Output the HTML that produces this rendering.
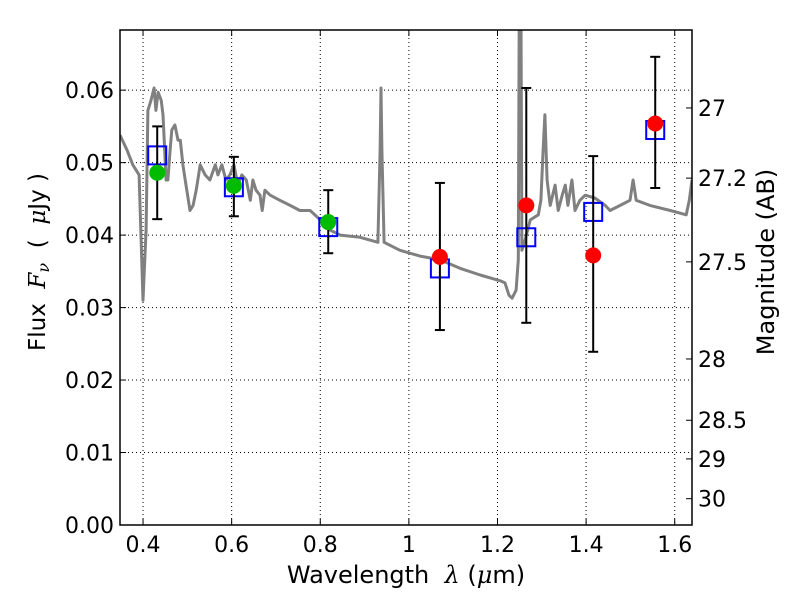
<!DOCTYPE html>
<html><head><meta charset="utf-8"><style>
body{margin:0;background:#fff;}
svg text{font-family:"DejaVu Sans","Liberation Sans",sans-serif;fill:#000;white-space:pre;}
</style></head><body>
<svg id="c" width="800" height="600" xmlns="http://www.w3.org/2000/svg"></svg>
<script>
const modelWave=[0.348,0.364,0.377,0.391,0.395,0.400,0.407,0.411,0.418,0.425,0.429,0.434,0.441,0.445,0.452,0.456,0.461,0.465,0.472,0.479,0.484,0.490,0.497,0.506,0.513,0.520,0.529,0.540,0.551,0.563,0.569,0.578,0.587,0.596,0.605,0.614,0.623,0.633,0.642,0.648,0.655,0.664,0.669,0.675,0.687,0.709,0.732,0.754,0.777,0.800,0.822,0.845,0.890,0.930,0.935,0.937,0.939,0.944,0.980,1.025,1.070,1.116,1.161,1.206,1.217,1.226,1.233,1.242,1.247,1.249,1.253,1.255,1.262,1.274,1.292,1.298,1.303,1.307,1.312,1.319,1.330,1.337,1.346,1.353,1.359,1.368,1.375,1.386,1.398,1.420,1.443,1.454,1.477,1.499,1.506,1.513,1.544,1.590,1.626,1.633,1.639];
const modelFlux=[0.0538,0.0517,0.0497,0.0483,0.0407,0.0310,0.0407,0.0572,0.0586,0.0603,0.0572,0.0597,0.0586,0.0566,0.0476,0.0476,0.0517,0.0545,0.0552,0.0531,0.0531,0.0497,0.0469,0.0434,0.0441,0.0462,0.0497,0.0483,0.0476,0.0497,0.0483,0.0497,0.0476,0.0483,0.0497,0.0469,0.0483,0.0476,0.0448,0.0476,0.0462,0.0455,0.0434,0.0462,0.0455,0.0448,0.0441,0.0434,0.0434,0.0421,0.0407,0.0400,0.0397,0.0390,0.0517,0.0603,0.0517,0.0390,0.0379,0.0371,0.0366,0.0354,0.0345,0.0337,0.0334,0.0317,0.0313,0.0324,0.0366,0.0700,0.0700,0.0379,0.0393,0.0421,0.0428,0.0448,0.0517,0.0566,0.0476,0.0441,0.0469,0.0434,0.0455,0.0469,0.0441,0.0476,0.0434,0.0448,0.0455,0.0451,0.0441,0.0434,0.0441,0.0448,0.0476,0.0448,0.0441,0.0434,0.0428,0.0448,0.0476];
const obsWave=[0.432,0.605,0.818,1.070,1.265,1.416,1.556];
const obsFlux=[0.0486,0.0468,0.0418,0.0370,0.0441,0.0372,0.0554];
const errHi=[0.0550,0.0508,0.0462,0.0472,0.0603,0.0509,0.0646];
const errLo=[0.0422,0.0426,0.0375,0.0269,0.0279,0.0239,0.0465];
const obsColor=['#00bb00','#00bb00','#00bb00','red','red','red','red'];
const modelBand=[0.0510,0.0466,0.0411,0.0354,0.0397,0.0432,0.0545];
const xTicks=[0.4,0.6,0.8,1.0,1.2,1.4,1.6];
const xTickLabels=['0.4','0.6','0.8','1','1.2','1.4','1.6'];
const yTicks=[0,0.01,0.02,0.03,0.04,0.05,0.06];
const yTickLabels=['0.00','0.01','0.02','0.03','0.04','0.05','0.06'];
const magTicks=[27,27.2,27.5,28,28.5,29,30];
const magLabels=['27','27.2','27.5','28','28.5','29','30'];

const L=120,R=692,T=30,B=525,X0=0.348,X1=1.639,Y0=0,Y1=0.0683;
const sx=v=>L+(v-X0)/(X1-X0)*(R-L);
const sy=v=>B-(v-Y0)/(Y1-Y0)*(B-T);
const mag2f=m=>Math.pow(10,(23.9-m)/2.5);
const svg=document.getElementById('c');
const NS='http://www.w3.org/2000/svg';
function mk(t,a,p){const e=document.createElementNS(NS,t);for(const k in a)e.setAttribute(k,a[k]);(p||svg).appendChild(e);return e;}

const clip=mk('clipPath',{id:'pc'});mk('rect',{x:L,y:T,width:R-L,height:B-T},clip);
xTicks.forEach((v,i)=>{const g=mk('line',{x1:sx(v),x2:sx(v),y1:T,y2:B,stroke:'#000','stroke-width':1,'stroke-dasharray':'1,3'});
});
yTicks.forEach((v,i)=>{const g=mk('line',{x1:L,x2:R,y1:sy(v),y2:sy(v),stroke:'#000','stroke-width':1,'stroke-dasharray':'1,3'});
});
let d='';modelWave.forEach((w,i)=>{d+=(i?'L':'M')+sx(w).toFixed(1)+','+sy(modelFlux[i]).toFixed(1);});
const ml=mk('path',{d:d,fill:'none',stroke:'#808080','stroke-width':3,'stroke-linejoin':'round','clip-path':'url(#pc)'});

modelBand.forEach((v,i)=>{const r=mk('rect',{x:sx(obsWave[i])-9,y:sy(v)-9,width:18,height:18,fill:'none',stroke:'#0000ff','stroke-width':2});
});
obsWave.forEach((w,i)=>{const x=sx(w);const g=mk('g',{stroke:'#000','stroke-width':2});

mk('line',{x1:x,x2:x,y1:sy(errHi[i]),y2:sy(errLo[i])},g);
mk('line',{x1:x-5,x2:x+5,y1:sy(errHi[i]),y2:sy(errHi[i])},g);
mk('line',{x1:x-5,x2:x+5,y1:sy(errLo[i]),y2:sy(errLo[i])},g);});
obsWave.forEach((w,i)=>{const c=mk('circle',{cx:sx(w),cy:sy(obsFlux[i]),r:8,fill:obsColor[i]});
});
const fr=mk('rect',{x:L,y:T,width:R-L,height:B-T,fill:'none',stroke:'#000','stroke-width':1.5});

xTicks.forEach((v,i)=>{const x=sx(v);mk('line',{x1:x,x2:x,y1:B,y2:B-6,stroke:'#000'});mk('line',{x1:x,x2:x,y1:T,y2:T+6,stroke:'#000'});
const t=mk('text',{x:x,y:B+27,'font-size':22,'text-anchor':'middle'});t.textContent=xTickLabels[i];
});
yTicks.forEach((v,i)=>{const y=sy(v);mk('line',{x1:L,x2:L+6,y1:y,y2:y,stroke:'#000'});
const t=mk('text',{x:L-6,y:y+8,'font-size':22,'text-anchor':'end'});t.textContent=yTickLabels[i];
});
magTicks.forEach((m,i)=>{const y=sy(mag2f(m));mk('line',{x1:R,x2:R-6,y1:y,y2:y,stroke:'#000'});
const t=mk('text',{x:R+6,y:y+8,'font-size':22});t.textContent=magLabels[i];
});
const xt=mk('text',{x:406,y:583,'font-size':24,'text-anchor':'middle'});
xt.innerHTML='Wavelength  <tspan font-family="DejaVu Serif" font-style="italic">λ</tspan> (<tspan font-family="DejaVu Serif" font-style="italic">μ</tspan>m)';

const yt=mk('text',{x:0,y:0,'font-size':23,'text-anchor':'middle',transform:'translate(45,262) rotate(-90)'});
yt.innerHTML='Flux  <tspan font-family="DejaVu Serif" font-style="italic">F</tspan><tspan font-family="DejaVu Serif" font-style="italic" font-size="16" dy="4">ν</tspan><tspan dy="-4">  (  </tspan><tspan font-family="DejaVu Serif" font-style="italic">μ</tspan>Jy )';

const rt=mk('text',{x:0,y:0,'font-size':24,'text-anchor':'middle',transform:'translate(774,262) rotate(-90)'});
rt.textContent='Magnitude (AB)';

</script>
</body></html>
